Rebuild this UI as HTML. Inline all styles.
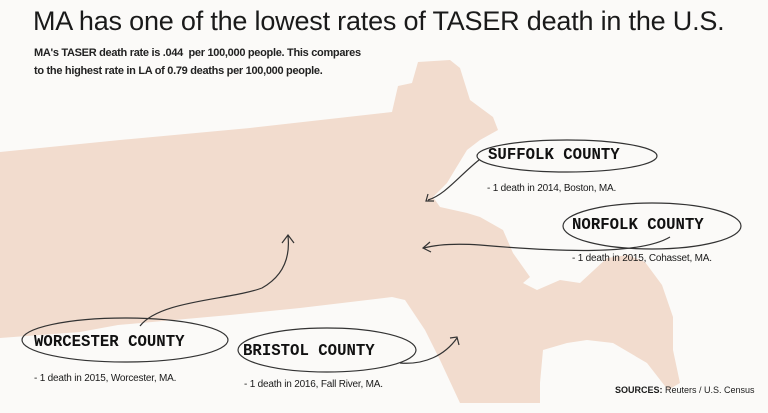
<!DOCTYPE html>
<html><head><meta charset="utf-8"><style>
html,body{margin:0;padding:0;}
body{width:768px;height:413px;background:#fbfaf8;position:relative;overflow:hidden;font-family:"Liberation Sans",sans-serif;color:#1a1a1a;}
.t{position:absolute;white-space:nowrap;}
.lab{font-family:"Liberation Mono",monospace;font-size:16.5px;color:#111;font-weight:bold;transform:scaleX(0.95);transform-origin:left;}
.d{font-size:10px;letter-spacing:-0.2px;}
</style></head><body>
<svg width="768" height="413" style="position:absolute;left:0;top:0">
<path fill="#f2dcce" d="M0,152 L120,140 L250,128 L392,112 L398,86 L412,83 L418,62 L450,60 L460,68 L470,100 L493,117 L498,130 L480,140 L467,150 L453,173 L447,183 L433,197 L440,207 L467,213 L480,217 L503,230 L513,253 L530,277 L523,283 L537,290 L560,280 L580,283 L607,258 L628,255 L645,262 L662,285 L673,317 L673,350 L680,383 L668,390 L647,363 L613,343 L587,340 L567,343 L543,350 L540,383 L540,403 L460,403 L440,360 L425,330 L405,300 L392,297 L300,308 L230,315 L118,325 L80,332 L0,338 Z"/>
<g fill="none" stroke="#333" stroke-width="1.2">
<ellipse cx="567" cy="156" rx="90" ry="16"/>
<ellipse cx="652" cy="226" rx="89" ry="23"/>
<ellipse cx="125" cy="340" rx="103" ry="22"/>
<ellipse cx="327" cy="350" rx="89" ry="22"/>
<path d="M479,160 C460,175 445,195 428,200"/>
<path d="M428,194 L426,201 L434,201"/>
<path d="M670,237 C640,255 560,252 480,245 C450,243 435,245 424,248"/>
<path d="M430,242 L423,248 L431,252"/>
<path d="M140,326 C160,300 230,300 262,288 C285,275 290,255 288,236"/>
<path d="M282,243 L288,235 L294,243"/>
<path d="M400,363 C425,365 445,355 457,338"/>
<path d="M450,338 L457,337 L459,345"/>
</g>
</svg>
<div class="t" style="left:33px;top:6px;font-size:27px;letter-spacing:-0.2px;">MA has one of the lowest rates of TASER death in the U.S.</div>
<div class="t" style="left:34px;top:44px;font-size:11px;line-height:18px;font-weight:bold;letter-spacing:-0.3px;color:#222;">MA's TASER death rate is .044&nbsp; per 100,000 people. This compares<br>to the highest rate in LA of 0.79 deaths per 100,000 people.</div>
<div class="t lab" style="left:488px;top:145px;">SUFFOLK COUNTY</div>
<div class="t d" style="left:487px;top:183px;">- 1 death in 2014, Boston, MA.</div>
<div class="t lab" style="left:572px;top:215px;">NORFOLK COUNTY</div>
<div class="t d" style="left:572px;top:253px;">- 1 death in 2015, Cohasset, MA.</div>
<div class="t lab" style="left:34px;top:332px;">WORCESTER COUNTY</div>
<div class="t d" style="left:34px;top:373px;">- 1 death in 2015, Worcester, MA.</div>
<div class="t lab" style="left:243px;top:341px;">BRISTOL COUNTY</div>
<div class="t d" style="left:244px;top:379px;">- 1 death in 2016, Fall River, MA.</div>
<div class="t" style="left:615px;top:385px;font-size:9px;"><b>SOURCES:</b> Reuters / U.S. Census</div>
</body></html>
